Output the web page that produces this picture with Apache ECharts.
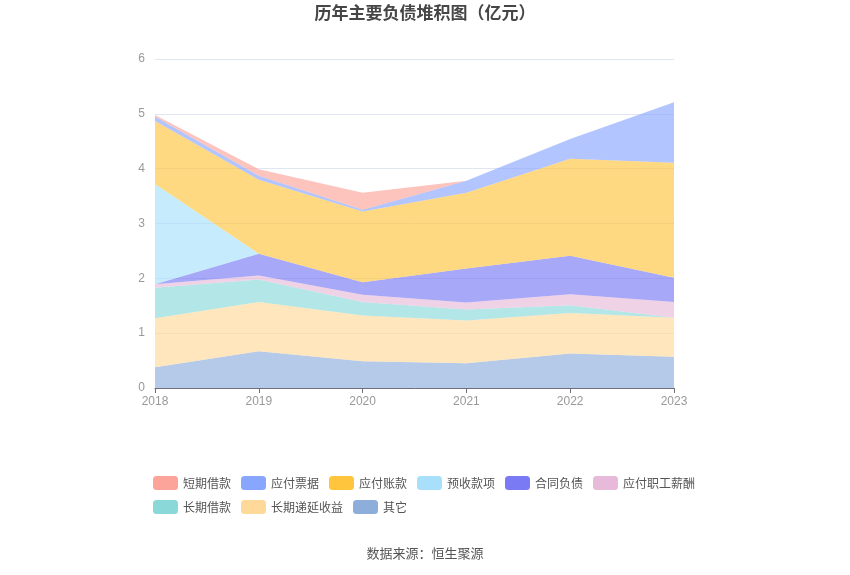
<!DOCTYPE html>
<html>
<head>
<meta charset="utf-8">
<script src="https://cdn.jsdelivr.net/npm/echarts@6/dist/echarts.min.js"></script>
<style>html,body{margin:0;padding:0;background:#fff}#c{width:850px;height:575px}</style>
</head>
<body>
<div id="c"></div>
<script>
const years = ['2018','2019','2020','2021','2022','2023'];
const yTicks = [0,1,2,3,4,5,6];
// bottom-up stacking order
const qita      = [0.38, 0.67, 0.49, 0.45, 0.63, 0.57]; // 其它
const cqdysy    = [0.89, 0.90, 0.83, 0.78, 0.74, 0.71]; // 长期递延收益
const cqjk      = [0.56, 0.41, 0.25, 0.20, 0.14, 0.00]; // 长期借款
const yfzgxc    = [0.06, 0.07, 0.13, 0.13, 0.20, 0.29]; // 应付职工薪酬
const htfz      = [0.00, 0.40, 0.23, 0.62, 0.70, 0.44]; // 合同负债
const yskx      = [1.83, 0.00, 0.00, 0.00, 0.00, 0.00]; // 预收款项
const yfzk      = [1.15, 1.35, 1.29, 1.38, 1.77, 2.10]; // 应付账款
const yfpj      = [0.08, 0.07, 0.03, 0.22, 0.36, 1.10]; // 应付票据
const dqjk      = [0.03, 0.12, 0.31, 0.00, 0.00, 0.00]; // 短期借款

const seriesDefs = [
  {name:'其它', data:qita, color:'#8DAEDB'},
  {name:'长期递延收益', data:cqdysy, color:'#FFD99A'},
  {name:'长期借款', data:cqjk, color:'#8AD8D8'},
  {name:'应付职工薪酬', data:yfzgxc, color:'#E8BAD9'},
  {name:'合同负债', data:htfz, color:'#7A7AF5'},
  {name:'预收款项', data:yskx, color:'#A8E0FC'},
  {name:'应付账款', data:yfzk, color:'#FFC53D'},
  {name:'应付票据', data:yfpj, color:'#88A6FE'},
  {name:'短期借款', data:dqjk, color:'#FCA39A'}
];
const legendRow1 = ['短期借款','应付票据','应付账款','预收款项','合同负债','应付职工薪酬'];
const legendRow2 = ['长期借款','长期递延收益','其它'];

const chart = echarts.init(document.getElementById('c'));
const legendCommon = {
  orient:'horizontal', icon:'roundRect', itemWidth:25, itemHeight:14, itemGap:10,
  textStyle:{fontSize:12, color:'#555', fontFamily:'Noto Sans CJK SC'}
};
chart.setOption({
  animation:false,
  color: seriesDefs.map(s=>s.color),
  title:{
    text:'历年主要负债堆积图（亿元）', left:'center', top:-1,
    textStyle:{fontSize:17, fontWeight:'bold', color:'#464646', fontFamily:'Noto Sans CJK SC'}
  },
  graphic:[{
    type:'text', left:'center', top:547,
    style:{text:'数据来源：恒生聚源', fontSize:13, fill:'#555', fontFamily:'Noto Sans CJK SC'}
  }],
  legend:[
    Object.assign({data:legendRow1, left:148, top:471}, legendCommon),
    Object.assign({data:legendRow2, left:148, top:495}, legendCommon)
  ],
  grid:{left:155, right:176, top:59, bottom:187},
  xAxis:{
    type:'category', data:years, boundaryGap:false,
    axisLine:{lineStyle:{color:'#6E7079'}},
    axisTick:{show:true, lineStyle:{color:'#6E7079'}},
    axisLabel:{color:'#999', fontSize:12, margin:8}
  },
  yAxis:{
    type:'value', min:yTicks[0], max:yTicks[yTicks.length-1], interval:1,
    axisLine:{show:false}, axisTick:{show:false},
    axisLabel:{color:'#999', fontSize:12, margin:10},
    splitLine:{lineStyle:{color:'#E0E6F1'}}
  },
  series: seriesDefs.map(s=>({
    name:s.name, type:'line', stack:'total', data:s.data,
    symbol:'none', smooth:false,
    lineStyle:{width:0},
    itemStyle:{color:s.color},
    areaStyle:{color:s.color, opacity:0.65}
  }))
});
</script>
</body>
</html>
